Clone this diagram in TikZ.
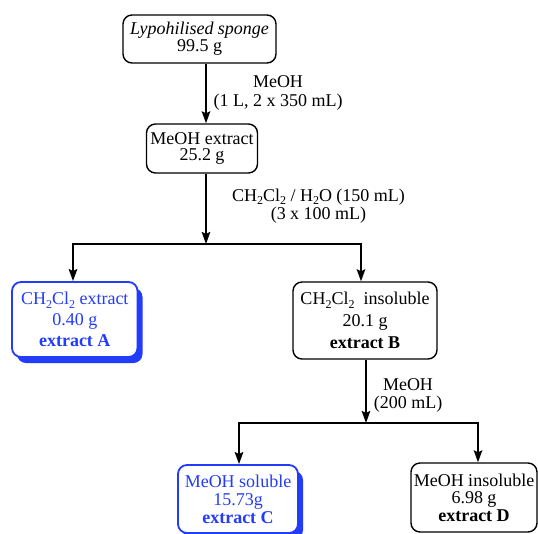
\documentclass[tikz,border=0pt]{standalone}
\usepackage{fontspec}
\setmainfont{Liberation Serif}
\usetikzlibrary{arrows.meta,shadows}
\definecolor{xblue}{RGB}{35,60,250}
\newcommand{\sbs}[1]{\raisebox{-0.2em}{\fontsize{12}{12}\selectfont #1}}
\begin{document}
\begin{tikzpicture}[x=1pt,y=-1pt,
  box/.style={draw=black, line width=1.4pt, rounded corners=9pt, fill=white,
    align=center, inner sep=0pt, font=\fontsize{18}{#1}\selectfont},
  box/.default=18pt,
  bluebox/.style={box=#1, draw=xblue, text=xblue, line width=1.8pt,
    drop shadow={shadow xshift=5pt, shadow yshift=-6pt, fill=xblue, opacity=1}},
  bluebox/.default=18pt,
  lbl/.style={align=center, inner sep=0pt, font=\fontsize{18}{#1}\selectfont},
  lbl/.default=18pt,
  arr/.style={line width=2pt, -{Stealth[length=12pt,width=8.5pt,inset=2pt]}}]
\useasboundingbox (0,0) rectangle (538,533);

% boxes
\node[box=17pt, minimum width=153pt, minimum height=48pt] (b1) at (199.5,39)
  {\textit{Lypohilised sponge}\\99.5 g};
\node[box=16.5pt, minimum width=111pt, minimum height=49pt] (b2) at (202,148.5)
  {MeOH extract\\25.2 g};
\node[bluebox=21pt, minimum width=125.5pt, minimum height=75pt] (bA) at (74.75,319.5)
  {CH\sbs{2}Cl\sbs{2} extract\\0.40 g\\\textbf{extract A}};
\node[box=22pt, minimum width=144pt, minimum height=77pt] (bB) at (365,320.5)
  {CH\sbs{2}Cl\sbs{2}\ \ insoluble\\20.1 g\\\textbf{extract B}};
\node[bluebox=18pt, minimum width=120pt, minimum height=68pt] (bC) at (238,499)
  {MeOH soluble\\15.73g\\\textbf{extract C}};
\node[box=17.5pt, minimum width=126pt, minimum height=69pt] (bD) at (474,497.5)
  {MeOH insoluble\\6.98 g\\\textbf{extract D}};

% labels
\node[lbl=19pt] (l1) at (278,93) {MeOH\\(1 L, 2 x 350 mL)};
\node[lbl=18.5pt] (l2) at (318.5,206) {CH\sbs{2}Cl\sbs{2} / H\sbs{2}O (150 mL)\\(3 x 100 mL)};
\node[lbl=18pt] (l3) at (408,395.5) {MeOH\\(200 mL)};

% connectors
\coordinate (x1) at (206,0);
\draw[arr] (b1.south -| x1) -- (b2.north -| x1);

\coordinate (j1) at (206,244);
\coordinate (jL) at (73,244);
\coordinate (jR) at (361,244);
\draw[arr] (b2.south -| j1) -- (j1);
\draw[arr] (jR) -- (jL) -- (jL |- bA.north);
\draw[arr] (jL) -- (jR) -- (jR |- bB.north);

\coordinate (j2) at (366,423);
\coordinate (jL2) at (239,423);
\coordinate (jR2) at (478,423);
\draw[arr] (bB.south -| j2) -- (j2);
\draw[arr] (jR2) -- (jL2) -- (jL2 |- bC.north);
\draw[arr] (jL2) -- (jR2) -- (jR2 |- bD.north);
\end{tikzpicture}
\end{document}
